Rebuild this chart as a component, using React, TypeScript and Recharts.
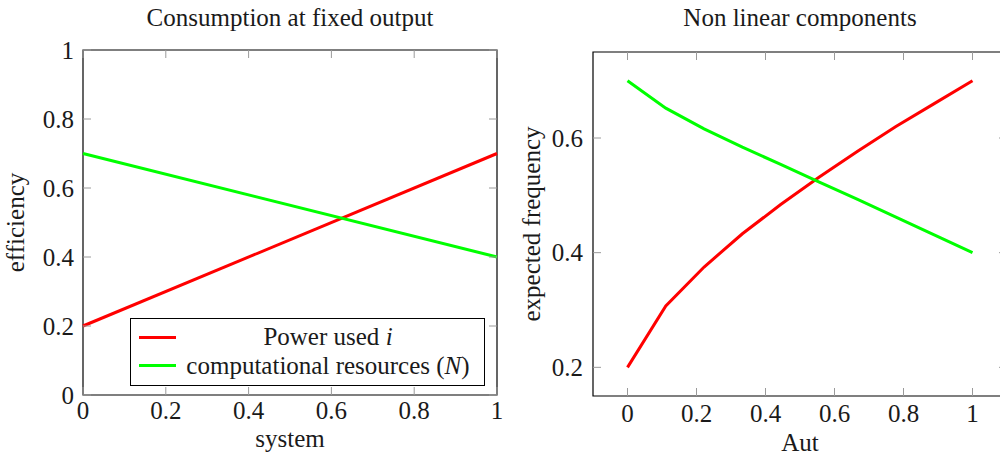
import { Line, LineChart, ReferenceArea, XAxis, YAxis } from "recharts";

const FONT = '"Liberation Serif", "DejaVu Serif", serif';
const FS = 25;
const TEXT = "#1a1a1a";
const TICK_COLOR = "#9a9a9a";
const TICK_LEN = 8;

// left panel: Consumption at fixed output
const systemX = [0, 1];
const powerUsed = [0.2, 0.7];
const compResources = [0.7, 0.4];

// right panel: Non linear components
const autX = [0, 0.111, 0.222, 0.333, 0.444, 0.556, 0.667, 0.778, 0.889, 1];
const autRed = [0.2, 0.307, 0.375, 0.433, 0.484, 0.532, 0.577, 0.62, 0.66, 0.7];
const autGreen = [0.7, 0.652, 0.616, 0.584, 0.554, 0.523, 0.493, 0.462, 0.431, 0.4];

const xTicks = [0, 0.2, 0.4, 0.6, 0.8, 1];
const leftYTicks = [0, 0.2, 0.4, 0.6, 0.8, 1];
const rightYTicks = [0.2, 0.4, 0.6];

const series = [
  { key: "a", color: "#ff0000", label: <>Power used <i>i</i></> },
  { key: "b", color: "#00ff00", label: <>computational resources (<i>N</i>)</> },
];

const leftData = systemX.map((x, i) => ({ x, a: powerUsed[i], b: compResources[i] }));
const rightData = autX.map((x, i) => ({ x, a: autRed[i], b: autGreen[i] }));

function makeXTick(plotH: number, labelDy: number) {
  return (props: any) => {
    const { x, y, payload } = props;
    return (
      <g>
        <line x1={x} x2={x} y1={y} y2={y - TICK_LEN} stroke={TICK_COLOR} />
        <line x1={x} x2={x} y1={y - plotH} y2={y - plotH + TICK_LEN} stroke={TICK_COLOR} />
        <text x={x} y={y + labelDy} textAnchor="middle" fill={TEXT} fontSize={FS} fontFamily={FONT}>
          {String(payload.value)}
        </text>
      </g>
    );
  };
}

function makeYTick(plotW: number, gap: number) {
  return (props: any) => {
    const { x, y, payload } = props;
    return (
      <g>
        <line x1={x} x2={x + TICK_LEN} y1={y} y2={y} stroke={TICK_COLOR} />
        <line x1={x + plotW} x2={x + plotW - TICK_LEN} y1={y} y2={y} stroke={TICK_COLOR} />
        <text x={x - gap} y={y + 8.5} textAnchor="end" fill={TEXT} fontSize={FS} fontFamily={FONT}>
          {String(payload.value)}
        </text>
      </g>
    );
  };
}

const titleStyle = {
  position: "absolute" as const,
  top: 5,
  fontFamily: FONT,
  fontSize: FS,
  lineHeight: "25px",
  color: TEXT,
  textAlign: "center" as const,
};

function LegendBox() {
  return (
    <div
      style={{
        position: "absolute",
        left: 130,
        top: 318,
        width: 353,
        height: 62,
        border: "1px solid #000",
        background: "#fff",
        fontFamily: FONT,
        fontSize: FS,
        color: TEXT,
        paddingTop: 4,
        boxSizing: "content-box",
      }}
    >
      {series.map((s) => (
        <div key={s.key} style={{ display: "flex", alignItems: "center", height: 28.5 }}>
          <span style={{ width: 37, height: 3, background: s.color, marginLeft: 8 }} />
          <span style={{ flex: 1, textAlign: "center", marginLeft: 4, marginRight: 8, lineHeight: "28px" }}>
            {s.label}
          </span>
        </div>
      ))}
    </div>
  );
}

const axisLabel = { fill: TEXT, fontSize: FS, fontFamily: FONT };

export default function App() {
  return (
    <div style={{ position: "absolute", left: 0, top: 0, width: 1000, height: 457, overflow: "hidden", background: "#fff" }}>
      <div style={{ position: "absolute", left: 0, top: 0 }}>
        <LineChart width={520} height={457} data={leftData} margin={{ top: 50, right: 23, bottom: 0, left: 0 }}>
          <XAxis
            dataKey="x"
            type="number"
            domain={[0, 1]}
            ticks={xTicks}
            interval={0}
            height={62}
            tickSize={0}
            tickMargin={0}
            axisLine={false}
            tickLine={false}
            tick={makeXTick(345, 24)}
            label={{ value: "system", position: "insideBottom", offset: 10, ...axisLabel }}
          />
          <YAxis
            type="number"
            domain={[0, 1]}
            ticks={leftYTicks}
            interval={0}
            width={83}
            tickSize={0}
            tickMargin={0}
            axisLine={false}
            tickLine={false}
            tick={makeYTick(414, 9)}
            label={{
              value: "efficiency",
              angle: -90,
              position: "insideLeft",
              offset: 15,
              ...axisLabel,
              style: { textAnchor: "middle" },
            }}
          />
          <ReferenceArea x1={0} x2={1} y1={0} y2={1} fill="none" stroke="#000" strokeWidth={1.2} />
          {series.map((s) => (
            <Line key={s.key} dataKey={s.key} stroke={s.color} strokeWidth={3} dot={false} isAnimationActive={false} />
          ))}
        </LineChart>
      </div>
      <div style={{ ...titleStyle, left: 83, width: 414 }}>Consumption at fixed output</div>
      <LegendBox />

      <div style={{ position: "absolute", left: 505, top: 0 }}>
        <LineChart width={522} height={457} data={rightData} margin={{ top: 52, right: 20, bottom: 0, left: 0 }}>
          <XAxis
            dataKey="x"
            type="number"
            domain={[-0.1, 1.1]}
            ticks={xTicks}
            interval={0}
            height={61}
            tickSize={0}
            tickMargin={0}
            axisLine={false}
            tickLine={false}
            tick={makeXTick(344, 26)}
            label={{ value: "Aut", position: "insideBottom", offset: 6, ...axisLabel }}
          />
          <YAxis
            type="number"
            domain={[0.15, 0.75]}
            ticks={rightYTicks}
            interval={0}
            width={88}
            tickSize={0}
            tickMargin={0}
            axisLine={false}
            tickLine={false}
            tick={makeYTick(414, 10)}
            label={{
              value: "expected frequency",
              angle: -90,
              position: "insideLeft",
              offset: 26,
              ...axisLabel,
              style: { textAnchor: "middle" },
            }}
          />
          <ReferenceArea x1={-0.1} x2={1.1} y1={0.15} y2={0.75} fill="none" stroke="#000" strokeWidth={1.2} />
          {series.map((s) => (
            <Line key={s.key} dataKey={s.key} stroke={s.color} strokeWidth={3} dot={false} isAnimationActive={false} />
          ))}
        </LineChart>
      </div>
      <div style={{ ...titleStyle, left: 593, width: 414 }}>Non linear components</div>
    </div>
  );
}
